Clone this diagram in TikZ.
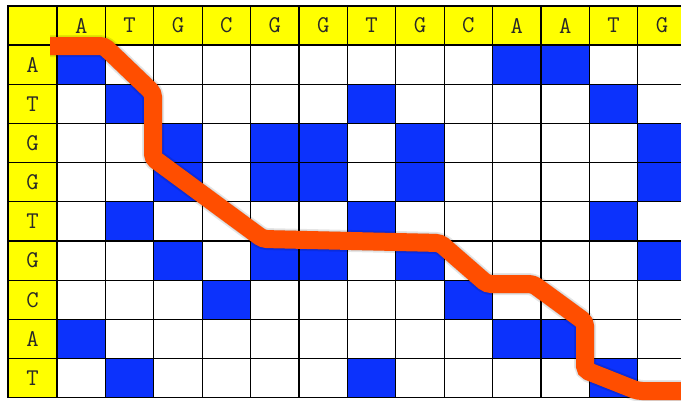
\documentclass[tikz,border=0pt]{standalone}
\usetikzlibrary{calc}
\definecolor{hdryellow}{RGB}{255,255,0}
\definecolor{matchblue}{RGB}{12,50,252}
\definecolor{pathorange}{RGB}{255,78,0}
\definecolor{txtgray}{RGB}{40,40,40}
\tikzset{
  cell/.style={draw=black, line width=1.3pt, minimum width=48.4pt, minimum height=39.2pt, inner sep=0pt, outer sep=0pt},
  hdr/.style={cell, fill=hdryellow, text=txtgray, font=\ttfamily\fontsize{24}{24}\selectfont},
  corner/.style={hdr, minimum width=49pt, minimum height=39pt},
  rowhdr/.style={hdr, minimum width=49pt},
  colhdr/.style={hdr, minimum height=39pt},
  alignpath/.style={draw=pathorange, line width=18pt, rounded corners=4pt, line cap=butt},
  pathshadow/.style={draw=black, opacity=0.10, line width=22pt, rounded corners=5pt, line cap=butt}
}
\begin{document}
\begin{tikzpicture}[x=1pt, y=-1pt]
\useasboundingbox (0,0) rectangle (681,400);
\clip (0,0) rectangle (681,400);
\fill[white] (0,0) rectangle (681,400);
% corner cell
\node[corner] (corner) at (32.5,25.5) {};
% column headers
\foreach \ci/\cl in {1/A,2/T,3/G,4/C,5/G,6/G,7/T,8/G,9/C,10/A,11/A,12/T,13/G}{
  \node[colhdr] (h-\ci) at ({57+48.4*(\ci-0.5)},25.5) {\cl};
}
% row headers
\foreach \ri/\rl in {1/A,2/T,3/G,4/G,5/T,6/G,7/C,8/A,9/T}{
  \node[rowhdr] (r-\ri) at (32.5,{45+39.2*(\ri-0.5)}) {\rl};
}
% dot-plot cells
\foreach \ri/\rl in {1/A,2/T,3/G,4/G,5/T,6/G,7/C,8/A,9/T}{
  \foreach \ci/\cl in {1/A,2/T,3/G,4/C,5/G,6/G,7/T,8/G,9/C,10/A,11/A,12/T,13/G}{
    \edef\rowL{\rl}\edef\colL{\cl}
    \ifx\rowL\colL\def\cellfill{matchblue}\else\def\cellfill{white}\fi
    \node[cell, fill=\cellfill] (c-\ri-\ci) at ({57+48.4*(\ci-0.5)},{45+39.2*(\ri-0.5)}) {};
  }
}
% alignment path
\coordinate (p0) at (50,46);
\coordinate (p1) at (104,46);
\coordinate (p2) at (153,93);
\coordinate (p3) at (153,158);
\coordinate (p4) at (263,239);
\coordinate (p5) at (440,243);
\coordinate (p6) at (487,284);
\coordinate (p7) at (533,284);
\coordinate (p8) at (585,322);
\coordinate (p9) at (585,370);
\coordinate (p10) at (638,391);
\coordinate (p11) at (700,391);
\begin{scope}[shift={(3,4)}]
\draw[pathshadow] (p0) -- (p1) -- (p2) -- (p3) -- (p4) -- (p5) -- (p6) -- (p7) -- (p8) -- (p9) -- (p10) -- (p11);
\end{scope}
\begin{scope}[shift={(2,2.5)}]
\draw[pathshadow, line width=19pt] (p0) -- (p1) -- (p2) -- (p3) -- (p4) -- (p5) -- (p6) -- (p7) -- (p8) -- (p9) -- (p10) -- (p11);
\end{scope}
\draw[alignpath] (p0) -- (p1) -- (p2) -- (p3) -- (p4) -- (p5) -- (p6) -- (p7) -- (p8) -- (p9) -- (p10) -- (p11);
\end{tikzpicture}
\end{document}
